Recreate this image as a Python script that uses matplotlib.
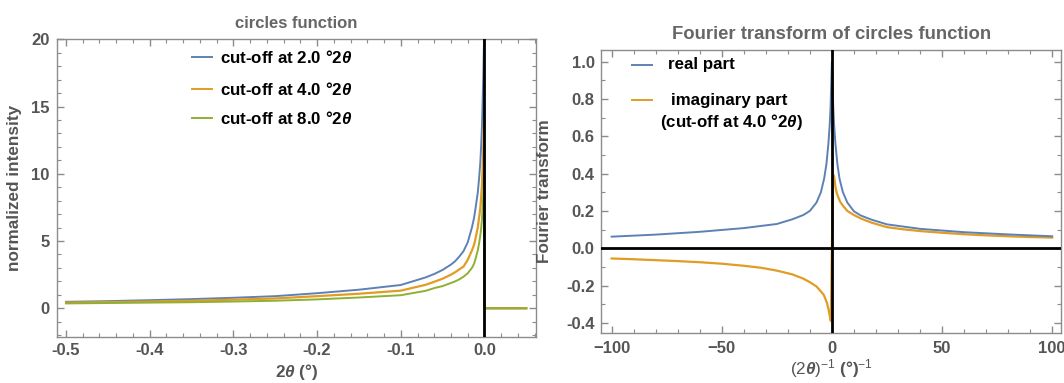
import matplotlib
matplotlib.use("Agg")
import matplotlib.pyplot as plt
from matplotlib.lines import Line2D
from matplotlib.ticker import MultipleLocator, FormatStrFormatter

plt.rcParams["font.family"] = ["Liberation Sans", "DejaVu Sans"]
plt.rcParams["mathtext.fontset"] = "custom"
plt.rcParams["mathtext.rm"] = "Liberation Sans"
plt.rcParams["mathtext.it"] = "Liberation Sans:italic"
plt.rcParams["mathtext.bf"] = "Liberation Sans:bold"
plt.rcParams["mathtext.bfit"] = "Liberation Sans:italic:bold"
plt.rcParams["axes.unicode_minus"] = True

# ---- circles function (left panel) ----
two_theta = [-0.5, -0.45, -0.4, -0.35, -0.3, -0.25, -0.2, -0.15, -0.1, -0.07,
             -0.06, -0.05, -0.04, -0.035, -0.03, -0.025, -0.02, -0.015, -0.0125,
             -0.011, -0.008, -0.0065, -0.005, -0.004, -0.003, -0.0015, -0.001,
             -0.0005, 0.0, 0.05]
cutoff_2 = [0.48, 0.53, 0.60, 0.68, 0.78, 0.90, 1.12, 1.38, 1.73, 2.30,
            2.55, 2.85, 3.25, 3.50, 3.85, 4.25, 4.90, 6.00, 6.70,
            7.30, 8.60, 9.60, 10.8, 12.0, 13.5, 17.0, 18.5,
            20.0, 0.0, 0.0]
cutoff_4 = [0.42, 0.46, 0.50, 0.56, 0.64, 0.73, 0.90, 1.08, 1.31, 1.75,
            1.97, 2.20, 2.50, 2.68, 2.90, 3.10, 3.60, 4.30, 4.70,
            5.10, 6.00, 6.70, 7.40, 8.20, 9.20, 11.5, 12.7,
            14.0, 0.0, 0.0]
cutoff_8 = [0.36, 0.39, 0.42, 0.45, 0.50, 0.56, 0.66, 0.80, 0.97, 1.30,
            1.50, 1.65, 1.88, 2.00, 2.15, 2.35, 2.60, 3.00, 3.30,
            3.60, 4.30, 4.80, 5.40, 5.90, 6.60, 8.20, 9.10,
            10.0, 0.0, 0.0]
left_labels = [r"cut-off at 2.0 °2$\mathbfit{\theta}$",
               r"cut-off at 4.0 °2$\mathbfit{\theta}$",
               r"cut-off at 8.0 °2$\mathbfit{\theta}$"]

# ---- Fourier transform (right panel) ----
freq_re = [-100, -80, -60, -40, -25, -18, -13, -10, -7, -5, -3.5, -2.5, -1.6,
           -1.0, -0.6, -0.3, 0,
           0.3, 0.6, 1.0, 1.6, 2.5, 3.5, 5, 7, 10, 13, 18, 25, 40, 60, 80, 100]
real_part = [0.062, 0.073, 0.088, 0.108, 0.130, 0.155, 0.178, 0.200, 0.245,
             0.300, 0.375, 0.450, 0.560, 0.660, 0.760, 0.880, 1.000,
             0.880, 0.760, 0.660, 0.560, 0.450, 0.370, 0.300, 0.245, 0.198,
             0.176, 0.153, 0.128, 0.104, 0.086, 0.074, 0.064]
freq_im = [-100, -90, -80, -70, -60, -50, -40, -32, -25, -18, -13, -10, -7, -5,
           -3.7, -3, -2.2, -1.6, -1.0, -0.5, 0,
           0.5, 1.0, 1.6, 2.2, 3, 3.7, 5, 7, 10, 13, 18, 25, 32, 40, 50, 60,
           70, 80, 90, 100]
imag_part = [-0.055, -0.059, -0.064, -0.069, -0.075, -0.083, -0.094, -0.105,
             -0.120, -0.140, -0.163, -0.182, -0.205, -0.232, -0.250, -0.270,
             -0.295, -0.325, -0.360, -0.390, 0.000,
             0.395, 0.385, 0.330, 0.295, 0.270, 0.250, 0.228, 0.200, 0.178,
             0.160, 0.137, 0.113, 0.102, 0.092, 0.083, 0.075, 0.069, 0.064,
             0.060, 0.057]
right_labels = ["real part", "imaginary part"]

BLUE = "#5E81B5"
ORANGE = "#E19C24"
GREEN = "#8FB032"
FRAME = "#8c8c8c"
TEXT_GRAY = "#555555"
TITLE_GRAY = "#666666"

fig = plt.figure(figsize=(10.64, 3.83), dpi=100)
ax1 = fig.add_axes([0.0534, 0.1214, 0.4499, 0.7760])
ax2 = fig.add_axes([0.5653, 0.1313, 0.4322, 0.7382])


def style_frame(ax):
    for sp in ax.spines.values():
        sp.set_color(FRAME)
        sp.set_linewidth(1.0)
    ax.tick_params(which="both", direction="in", top=True, right=True,
                   color=FRAME, labelcolor=TEXT_GRAY, labelsize=12)
    ax.tick_params(which="major", length=5, width=1)
    ax.tick_params(which="minor", length=2.6, width=0.8)
    for lab in ax.get_xticklabels() + ax.get_yticklabels():
        lab.set_fontweight("bold")


# left panel
ax1.plot(two_theta, cutoff_2, color=BLUE, lw=1.4, zorder=3)
ax1.plot(two_theta, cutoff_4, color=ORANGE, lw=1.6, zorder=3)
ax1.plot(two_theta, cutoff_8, color=GREEN, lw=1.4, zorder=4)
ax1.axvline(0, color="black", lw=2.0, zorder=5)
ax1.set_xlim(-0.511, 0.061)
ax1.set_ylim(-2.1, 20)
ax1.xaxis.set_major_locator(MultipleLocator(0.1))
ax1.xaxis.set_minor_locator(MultipleLocator(0.02))
ax1.yaxis.set_major_locator(MultipleLocator(5))
ax1.yaxis.set_minor_locator(MultipleLocator(1))
ax1.xaxis.set_major_formatter(FormatStrFormatter("%.1f"))
ax1.tick_params(axis="x", pad=5)
ax1.tick_params(axis="y", pad=5)
style_frame(ax1)
ax1.set_title("circles function", color=TITLE_GRAY, fontsize=12,
              fontweight="bold", pad=8)
ax1.set_xlabel(r"2$\mathbfit{\theta}$ (°)", color=TEXT_GRAY, fontsize=12.3,
               fontweight="bold")
ax1.set_ylabel("normalized intensity", color=TEXT_GRAY, fontsize=12.3,
               fontweight="bold")
ax1.xaxis.set_label_coords(0.5, -0.085)
ax1.yaxis.set_label_coords(-0.072, 0.5)

for (col, lab, yy) in zip([BLUE, ORANGE, GREEN], left_labels, [0.9394, 0.8318, 0.7342]):
    ax1.add_line(Line2D([0.283, 0.3235], [yy, yy], transform=ax1.transAxes,
                        color=col, lw=1.4))
    ax1.text(0.341, yy, lab, transform=ax1.transAxes, fontsize=12.2,
             fontweight="bold", color="black", va="center", ha="left")

# right panel
ax2.plot(freq_re, real_part, color=BLUE, lw=1.4, zorder=4)
ax2.plot(freq_im, imag_part, color=ORANGE, lw=1.6, zorder=3)
ax2.axvline(0, color="black", lw=2.0, zorder=5)
ax2.axhline(0, color="black", lw=2.0, zorder=5)
ax2.set_xlim(-104.6, 104.15)
ax2.set_ylim(-0.453, 1.063)
ax2.xaxis.set_major_locator(MultipleLocator(50))
ax2.xaxis.set_minor_locator(MultipleLocator(10))
ax2.yaxis.set_major_locator(MultipleLocator(0.2))
ax2.yaxis.set_minor_locator(MultipleLocator(0.1))
ax2.yaxis.set_major_formatter(FormatStrFormatter("%.1f"))
ax2.tick_params(axis="x", pad=6)
ax2.tick_params(axis="y", pad=5)
style_frame(ax2)
ax2.set_title("Fourier transform of circles function", color=TITLE_GRAY,
              fontsize=13.3, fontweight="bold", pad=8)
ax2.set_xlabel(r"$(2\mathbfit{\theta})^{-1}$ (°)$^{-1}$", color=TEXT_GRAY,
               fontsize=12.3, fontweight="bold")
ax2.set_ylabel("Fourier transform", color=TEXT_GRAY, fontsize=12.3,
               fontweight="bold")
ax2.xaxis.set_label_coords(0.5, -0.088)
ax2.yaxis.set_label_coords(-0.108, 0.5)

for (col, lab, yy, tx) in zip([BLUE, ORANGE], right_labels, [0.947, 0.823], [0.1453, 0.1505]):
    ax2.add_line(Line2D([0.0657, 0.1092], [yy, yy], transform=ax2.transAxes,
                        color=col, lw=1.4))
    ax2.text(tx, yy, lab, transform=ax2.transAxes, fontsize=12.2,
             fontweight="bold", color="black", va="center", ha="left")
ax2.text(0.1272, 0.7464, r"(cut-off at 4.0 °2$\mathbfit{\theta}$)", transform=ax2.transAxes,
         fontsize=12.2, fontweight="bold", color="black", va="center", ha="left")

fig.savefig("out.png", dpi=100)
